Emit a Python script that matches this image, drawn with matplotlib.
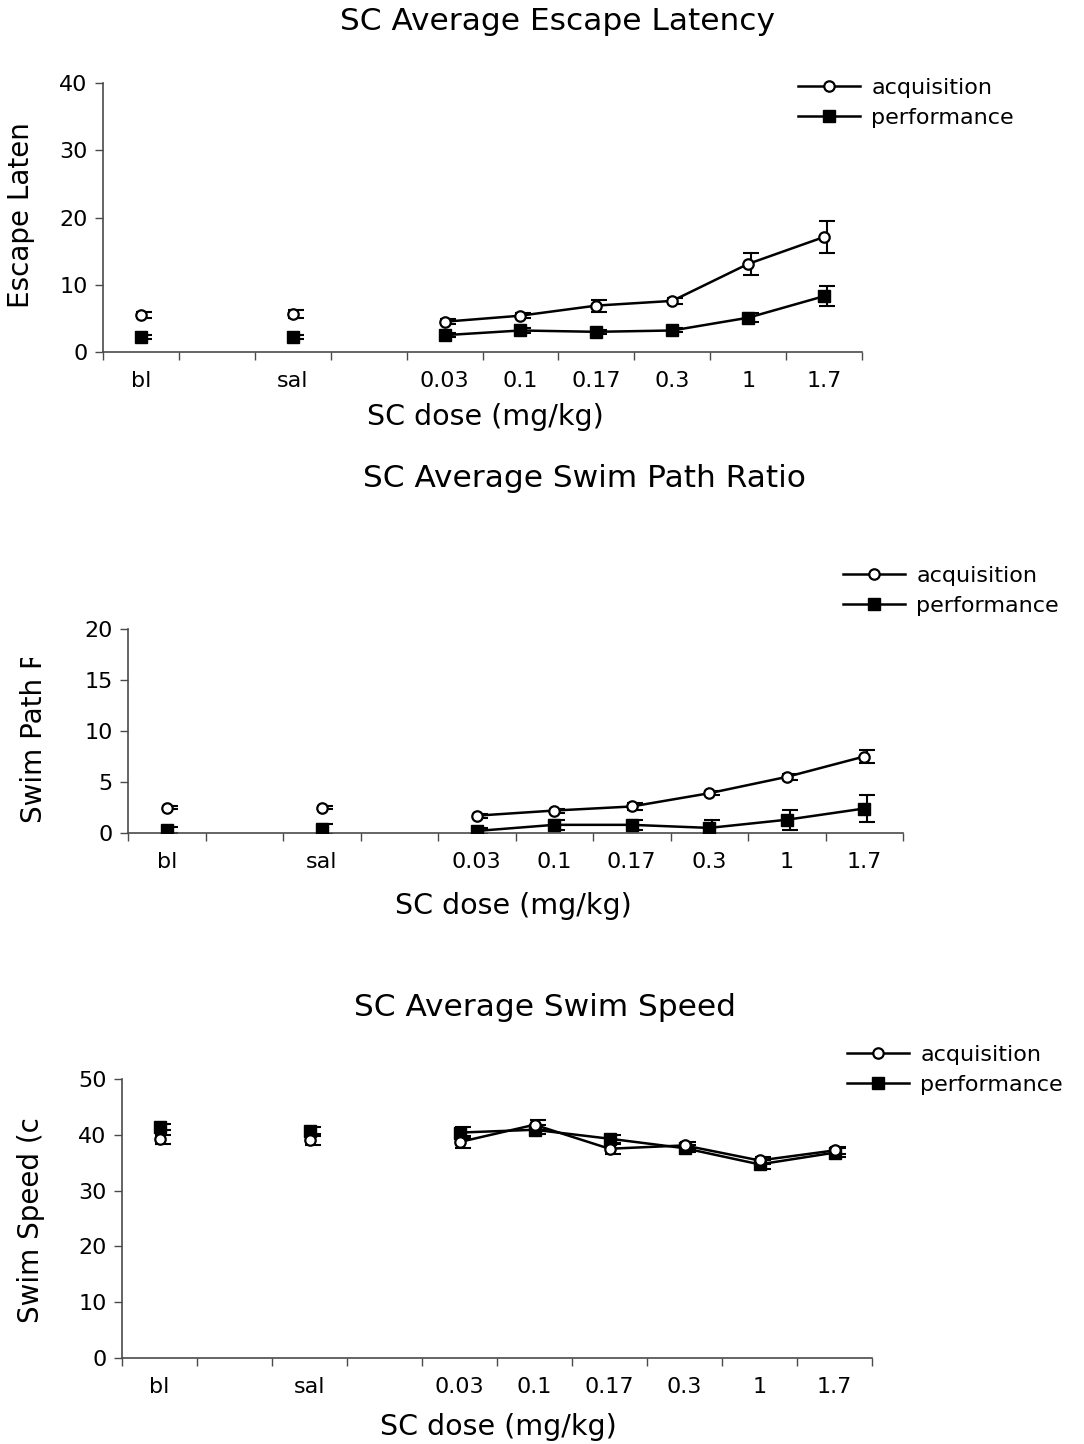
import numpy as np
import matplotlib
matplotlib.use('Agg')
import matplotlib.pyplot as plt
from matplotlib.transforms import Bbox, TransformedBbox, offset_copy

# x axis slots (blank slots leave gaps between bl, sal and the doses)
categories = ['bl', '', 'sal', '', '0.03', '0.1', '0.17', '0.3', '1', '1.7']
doses = ['bl', 'sal', '0.03', '0.1', '0.17', '0.3', '1', '1.7']

# escape latency
lat_acq = [5.5, 5.7, 4.5, 5.4, 6.9, 7.6, 13.1, 17.1]
lat_acq_err = [0.4, 0.6, 0.4, 0.4, 0.9, 0.5, 1.6, 2.4]
lat_perf = [2.3, 2.3, 2.5, 3.2, 3.0, 3.2, 5.1, 8.3]
lat_perf_err = [0.3, 0.3, 0.3, 0.4, 0.3, 0.3, 0.7, 1.5]

# swim path ratio
path_acq = [2.5, 2.5, 1.7, 2.2, 2.6, 3.9, 5.5, 7.5]
path_acq_err = [0.1, 0.1, 0.2, 0.2, 0.3, 0.2, 0.3, 0.6]
path_perf = [0.3, 0.4, 0.2, 0.8, 0.8, 0.5, 1.3, 2.4]
path_perf_err = [0.3, 0.5, 0.3, 0.5, 0.5, 0.8, 1.0, 1.3]

# swim speed
speed_acq = [39.2, 39.1, 38.7, 41.8, 37.5, 38.1, 35.4, 37.2]
speed_acq_err = [0.8, 1.0, 1.0, 0.9, 0.9, 0.6, 0.6, 0.6]
speed_perf = [41.4, 40.6, 40.4, 40.9, 39.3, 37.6, 34.7, 36.8]
speed_perf_err = [0.5, 0.8, 1.0, 0.8, 0.7, 0.6, 0.8, 0.8]

W, H = 1084, 1444
fig = plt.figure(figsize=(W / 100, H / 100), dpi=100)
plt.rcParams['font.family'] = ['DejaVu Sans']

AX_COL = '#4a4a4a'
TICK_FS = 16
LABEL_FS = 20.5
YLABEL_FS = 20
TITLE_FS = 22.5
idx = [categories.index(d) for d in doses]
xs = np.arange(len(categories))


def fx(px):
    return px / W


def fy(py):
    return 1 - py / H


def full(vals):
    y = np.full(len(categories), np.nan)
    y[idx] = vals
    return y


def panel(box, ylim, yticks, acq, acq_err, perf, perf_err,
          title, title_pos, ylabel, ylabel_pos, xlabel_pos, leg_pos, clip_top=None):
    left, top, right, bottom = box
    ax = fig.add_axes([fx(left), fy(bottom), fx(right - left), (bottom - top) / H])
    ax.set_xlim(-0.5, len(categories) - 0.5)
    ax.set_ylim(*ylim)
    ax.set_yticks(yticks)
    for s in ['top', 'right']:
        ax.spines[s].set_visible(False)
    for s in ['left', 'bottom']:
        ax.spines[s].set_color(AX_COL)
        ax.spines[s].set_linewidth(1.2)

    # boundaries get tick marks, centres get the labels
    ax.set_xticks(np.arange(-0.5, len(categories), 1.0))
    ax.set_xticklabels([])
    ax.set_xticks(xs, minor=True)
    ax.set_xticklabels(categories, minor=True)
    ax.tick_params(axis='x', which='major', direction='out', length=6,
                   width=1, color=AX_COL)
    ax.tick_params(axis='x', which='minor', length=0, pad=14, labelsize=TICK_FS)
    ax.tick_params(axis='y', direction='out', length=6, width=1,
                   color=AX_COL, pad=5, labelsize=TICK_FS)

    shift = offset_copy(ax.transData, fig=fig, x=3, y=0, units='dots')
    for vals, errs in [(acq, acq_err), (perf, perf_err)]:
        eb = ax.errorbar(idx, vals, yerr=errs, fmt='none', ecolor='black',
                         elinewidth=1.5, capsize=6, capthick=1.5, zorder=2)
        for art in eb.lines[1]:
            art.set_transform(shift)
        for art in eb.lines[2]:
            art.set_transform(shift)

    h1, = ax.plot(xs, full(acq), color='black', lw=1.8, marker='o', ms=7.5,
                  mfc='white', mec='black', mew=1.6, zorder=4)
    h2, = ax.plot(xs, full(perf), color='black', lw=1.8, marker='s', ms=8,
                  mfc='black', mec='black', zorder=3)

    fig.text(fx(title_pos[0]), fy(title_pos[1]), title, ha='center',
             va='center', fontsize=TITLE_FS)
    fig.text(fx(xlabel_pos[0]), fy(xlabel_pos[1]), 'SC dose (mg/kg)',
             ha='center', va='center', fontsize=LABEL_FS)
    yl = fig.text(fx(ylabel_pos[0]), fy(ylabel_pos[1]), ylabel, rotation=90,
                  ha='center', va='bottom', fontsize=YLABEL_FS)
    if clip_top is not None:
        yl.set_clip_box(TransformedBbox(Bbox([[0, 0], [1, fy(clip_top)]]),
                                        fig.transFigure))
        yl.set_clip_on(True)

    fig.legend([h1, h2], ['acquisition', 'performance'], loc='upper left',
               bbox_to_anchor=(fx(leg_pos[0]), fy(leg_pos[1])),
               bbox_transform=fig.transFigure, frameon=False, fontsize=TICK_FS,
               handlelength=2.8, handletextpad=0.5, labelspacing=0.45,
               borderpad=0, borderaxespad=0, numpoints=1)
    return ax


panel((103, 83, 862, 352), (0, 40), [0, 10, 20, 30, 40],
      lat_acq, lat_acq_err, lat_perf, lat_perf_err,
      'SC Average Escape Latency', (557, 22), 'Escape Laten', (21, 308),
      (485, 417), (798, 78))

panel((128, 629, 903, 833), (0, 20), [0, 5, 10, 15, 20],
      path_acq, path_acq_err, path_perf, path_perf_err,
      'SC Average Swim Path Ratio', (584, 478), 'Swim Path R', (34, 823),
      (513, 906), (843, 566), clip_top=658)

panel((122, 1079, 872, 1358), (0, 50), [0, 10, 20, 30, 40, 50],
      speed_acq, speed_acq_err, speed_perf, speed_perf_err,
      'SC Average Swim Speed', (545, 1008), 'Swim Speed (c', (31, 1323),
      (498, 1427), (847, 1045))

fig.savefig('out.png', dpi=100)
